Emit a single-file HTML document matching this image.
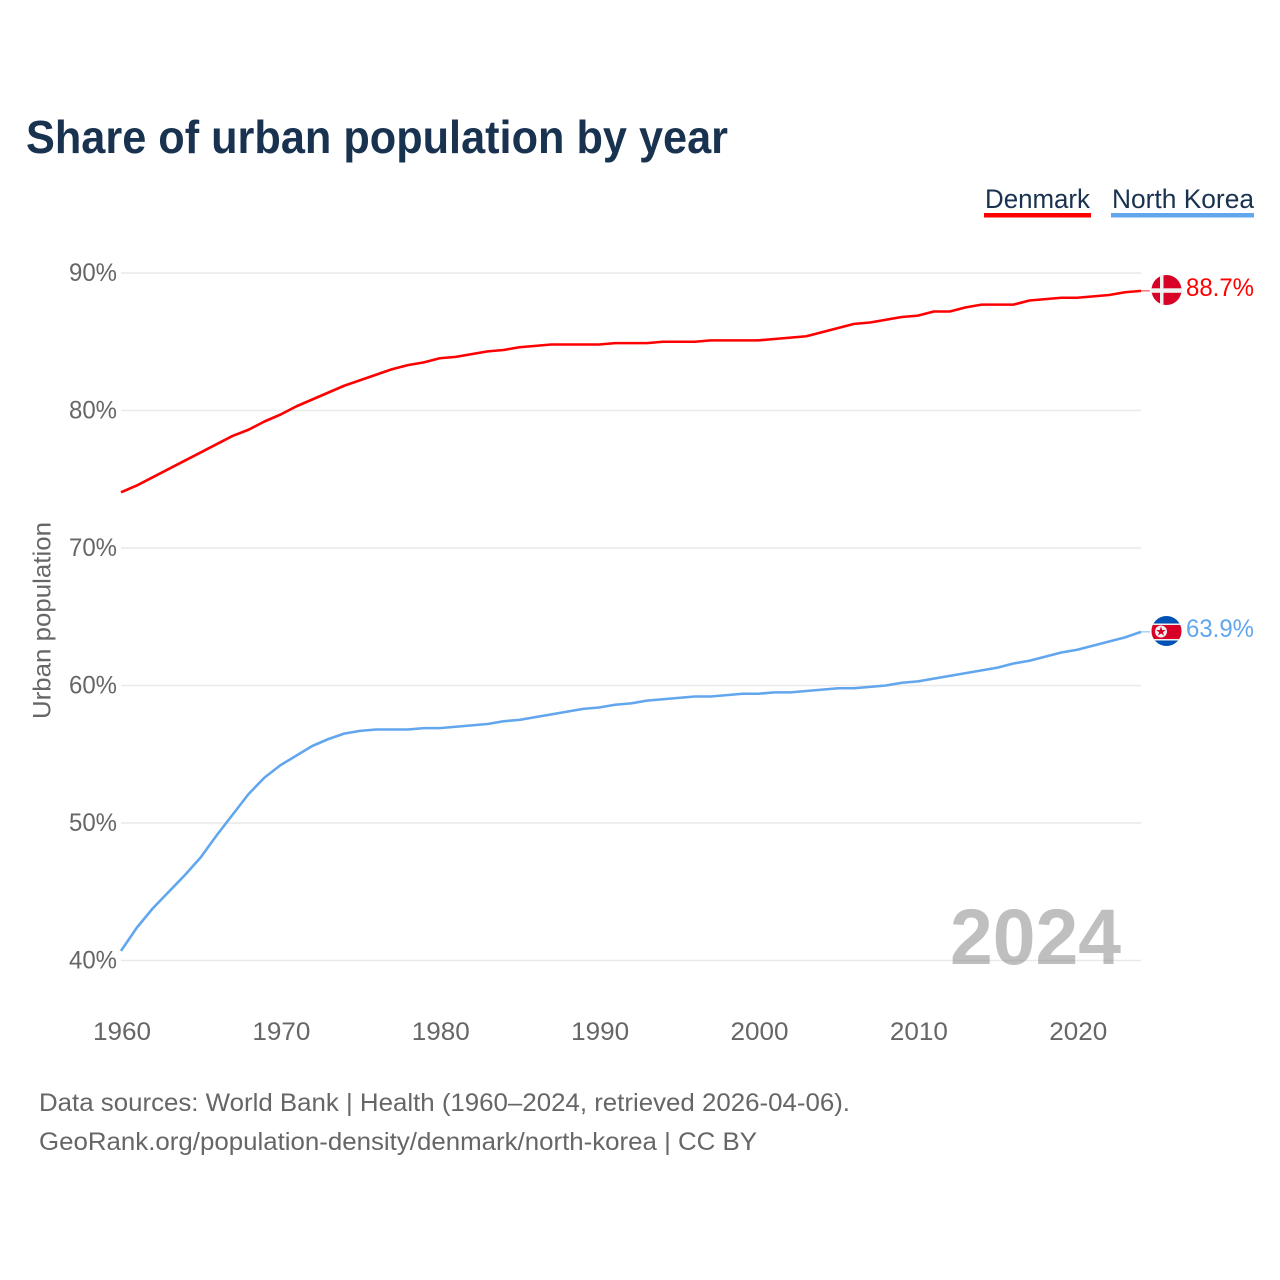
<!DOCTYPE html>
<html lang="en">
<head>
<meta charset="utf-8">
<title>Share of urban population by year</title>
<style>
html,body{margin:0;padding:0;background:#fff;width:1280px;height:1280px;overflow:hidden}
svg{display:block}
text{font-family:"Liberation Sans",sans-serif}
</style>
</head>
<body>
<svg id="chart" width="1280" height="1280" viewBox="0 0 1280 1280" xmlns="http://www.w3.org/2000/svg">
  <defs>
    <clipPath id="clip-dk"><circle cx="1166.5" cy="290" r="15"/></clipPath>
    <clipPath id="clip-kp"><circle cx="1166.5" cy="631" r="15"/></clipPath>
  </defs>
  <rect width="1280" height="1280" fill="#fff"/>
  <text x="26" y="153" font-size="46" font-weight="700" fill="#18324f" textLength="702" lengthAdjust="spacingAndGlyphs">Share of urban population by year</text>

  <g>
    <g>
      <text x="985" y="208" font-size="27" fill="#18324f" textLength="105" lengthAdjust="spacingAndGlyphs">Denmark</text>
      <rect x="984" y="213" width="107" height="4.5" fill="#ff0000"/>
    </g>
    <g>
      <text x="1112" y="208" font-size="27" fill="#18324f" textLength="142" lengthAdjust="spacingAndGlyphs">North Korea</text>
      <rect x="1111" y="213" width="143" height="4.5" fill="#62a6ee"/>
    </g>
  </g>

  <g id="grid"></g>
  <g id="yticks"></g>
  <g id="xticks"></g>
  <text transform="translate(50.5 620.5) rotate(-90)" text-anchor="middle" font-size="25" fill="#666" textLength="197" lengthAdjust="spacingAndGlyphs">Urban population</text>

  <text x="950" y="964" font-size="79" font-weight="700" fill="#808080" fill-opacity="0.5" textLength="171" lengthAdjust="spacingAndGlyphs">2024</text>

  <g id="series"></g>

  <g clip-path="url(#clip-dk)">
    <rect x="1151" y="275" width="31" height="31" fill="#d80027"/>
    <rect x="1160" y="275" width="3.5" height="31" fill="#f0f0f0"/>
    <rect x="1151" y="288.3" width="31" height="4.5" fill="#f0f0f0"/>
  </g>
  <text id="label-dk" x="1186" y="296" font-size="25" fill="#ff0000" textLength="68" lengthAdjust="spacingAndGlyphs">88.7%</text>

  <g clip-path="url(#clip-kp)">
    <rect x="1151" y="616" width="31" height="31" fill="#0052b4"/>
    <rect x="1151" y="623.5" width="31" height="17" fill="#f0f0f0"/>
    <rect x="1151" y="625" width="31" height="14" fill="#d80027"/>
    <circle cx="1161" cy="631.5" r="6" fill="#f0f0f0"/>
    <polygon points="1161,626.5 1162.2,630 1165.8,630 1162.9,632.2 1164,635.6 1161,633.5 1158,635.6 1159.1,632.2 1156.2,630 1159.8,630" fill="#d80027"/>
  </g>
  <text id="label-kp" x="1186" y="637" font-size="25" fill="#62a6ee" textLength="68" lengthAdjust="spacingAndGlyphs">63.9%</text>

  <g>
    <text x="39" y="1111" font-size="25" fill="#666" textLength="811" lengthAdjust="spacingAndGlyphs">Data sources: World Bank | Health (1960–2024, retrieved 2026-04-06).</text>
    <text x="39" y="1150" font-size="25" fill="#666" textLength="718" lengthAdjust="spacingAndGlyphs">GeoRank.org/population-density/denmark/north-korea | CC BY</text>
  </g>
</svg>
<script>
const startYear = 1960;
const xTickYears = [1960, 1970, 1980, 1990, 2000, 2010, 2020];
const yTickValues = [40, 50, 60, 70, 80, 90];
const denmarkValues = [74.05,74.55,75.15,75.75,76.35,76.95,77.55,78.15,78.6,79.2,79.7,80.3,80.8,81.3,81.8,82.2,82.6,83.0,83.3,83.5,83.8,83.9,84.1,84.3,84.4,84.6,84.7,84.8,84.8,84.8,84.8,84.9,84.9,84.9,85.0,85.0,85.0,85.1,85.1,85.1,85.1,85.2,85.3,85.4,85.7,86.0,86.3,86.4,86.6,86.8,86.9,87.2,87.2,87.5,87.7,87.7,87.7,88.0,88.1,88.2,88.2,88.3,88.4,88.6,88.7];
const northKoreaValues = [40.7,42.4,43.8,45.0,46.2,47.5,49.1,50.6,52.1,53.3,54.2,54.9,55.6,56.1,56.5,56.7,56.8,56.8,56.8,56.9,56.9,57.0,57.1,57.2,57.4,57.5,57.7,57.9,58.1,58.3,58.4,58.6,58.7,58.9,59.0,59.1,59.2,59.2,59.3,59.4,59.4,59.5,59.5,59.6,59.7,59.8,59.8,59.9,60.0,60.2,60.3,60.5,60.7,60.9,61.1,61.3,61.6,61.8,62.1,62.4,62.6,62.9,63.2,63.5,63.9];

const SVGNS = 'http://www.w3.org/2000/svg';
function xScale(year) { return 121 + (year - 1960) * (1141 - 121) / 64; }
function yScale(value) { return 960.5 - (value - 40) * 13.75; }
function make(tag, attrs, parent) {
  const el = document.createElementNS(SVGNS, tag);
  for (const k in attrs) el.setAttribute(k, attrs[k]);
  parent.appendChild(el);
  return el;
}

const grid = document.getElementById('grid');
const yticks = document.getElementById('yticks');
const xticks = document.getElementById('xticks');
const series = document.getElementById('series');

yTickValues.forEach(function (v) {
  const line = make('line', { x1: 121, x2: 1141, y1: yScale(v), y2: yScale(v), stroke: '#e9e9e9', 'stroke-width': 1.5 }, grid);
  
  
  const t = make('text', { x: 117, y: yScale(v) + 8, 'text-anchor': 'end', 'font-size': 25, fill: '#666', textLength: 48, lengthAdjust: 'spacingAndGlyphs' }, yticks);
  
  
  t.textContent = v + '%';
});

xTickYears.forEach(function (y) {
  const t = make('text', { x: xScale(y) + 1, y: 1040, 'text-anchor': 'middle', 'font-size': 25, fill: '#666', textLength: 58, lengthAdjust: 'spacingAndGlyphs' }, xticks);
  
  
  t.textContent = y;
});

function drawSeries(values, color, name) {
  const pts = values.map(function (v, i) { return xScale(startYear + i) + ',' + yScale(v); });
  const path = make('polyline', { points: pts.join(' '), fill: 'none', stroke: color, 'stroke-width': 2.6, 'stroke-linejoin': 'round' }, series);
  
  
  const last = values[values.length - 1];
  const lastX = xScale(startYear + values.length - 1);
  const conn = make('line', { x1: lastX, x2: lastX + 9, y1: yScale(last), y2: yScale(last), stroke: color, 'stroke-width': 1, 'stroke-opacity': 0.8 }, series);
  
  
}
drawSeries(denmarkValues, '#ff0000', 'line-denmark');
drawSeries(northKoreaValues, '#62a6ee', 'line-north-korea');

document.getElementById('label-dk').textContent = denmarkValues[denmarkValues.length - 1].toFixed(1) + '%';
document.getElementById('label-kp').textContent = northKoreaValues[northKoreaValues.length - 1].toFixed(1) + '%';
</script>
</body>
</html>
